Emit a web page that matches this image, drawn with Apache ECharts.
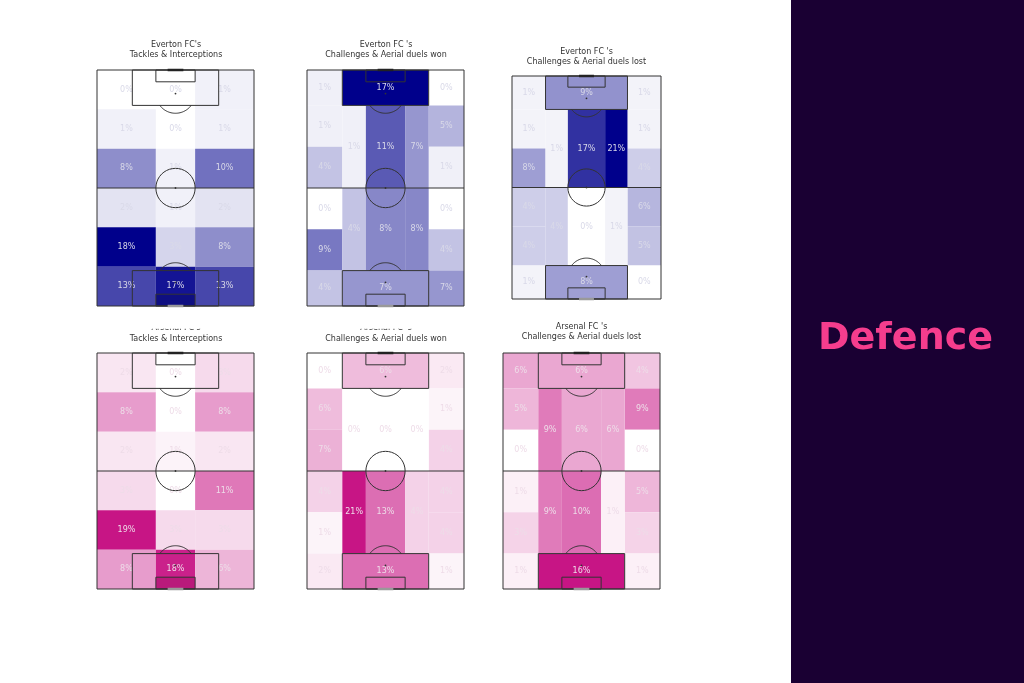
<!DOCTYPE html>
<html><head><meta charset="utf-8">
<script src="https://cdn.jsdelivr.net/npm/echarts@6/dist/echarts.min.js"></script>
<style>html,body{margin:0;padding:0;background:#fff}#c{width:1024px;height:683px}</style>
</head><body><div id="c"></div>
<script>
// ---- bin edges on an 80 x 120 pitch (y measured from the top goal line) ----
const gridColEdges = [0, 30, 50, 80];
const gridRowEdges = [0, 20, 40, 60, 80, 100, 120];
const posColEdges = [0, 18, 30, 50, 62, 80];
const wingRowEdges = [0, 18, 39, 60, 81, 102, 120];
const midRowEdges = [18, 60, 102];

// ---- titles ----
const panelTitles = [
  ["Everton FC's", "Tackles & Interceptions"],
  ["Everton FC 's", "Challenges & Aerial duels won"],
  ["Everton FC 's", "Challenges & Aerial duels lost"],
  ["Arsenal FC's", "Tackles & Interceptions"],
  ["Arsenal FC 's", "Challenges & Aerial duels won"],
  ["Arsenal FC 's", "Challenges & Aerial duels lost"]
];
const sideLabel = "Defence";

// ---- Tackles & Interceptions (% ; rows top->bottom, columns left, centre, right) ----
const evertonTackles = [[0,0,1],[1,0,1],[8,1,10],[2,1,2],[18,3,8],[13,16.6,13]];
const arsenalTackles = [[2,0,3],[8,0,8],[2,1,2],[3,0,11],[19,3,3],[8,18,6]];

// ---- Challenges & aerial duels (% per positional zone) ----
// boxes: [top box, bottom box]; wings: 6 rows top->bottom; half-spaces/centre: [upper, lower]
const evWonBoxes = [17, 7];
const evWonLeftWing = [1, 1, 4, 0, 9, 4];
const evWonRightWing = [0, 5, 1, 0, 4, 7];
const evWonLeftHalf = [1, 4];
const evWonCentre = [11, 8];
const evWonRightHalf = [7, 8];

const evLostBoxes = [9, 8];
const evLostLeftWing = [1, 1, 8, 4, 4, 1];
const evLostRightWing = [1, 1, 4, 6, 5, 0];
const evLostLeftHalf = [1, 4];
const evLostCentre = [17, 0];
const evLostRightHalf = [21, 1];

const arWonBoxes = [6, 13];
const arWonLeftWing = [0, 6, 7, 4, 1, 2];
const arWonRightWing = [2, 1, 4, 4, 4, 1];
const arWonLeftHalf = [0, 21];
const arWonCentre = [0, 13];
const arWonRightHalf = [0, 4];

const arLostBoxes = [6, 16];
const arLostLeftWing = [6, 5, 0, 1, 3, 1];
const arLostRightWing = [4, 9, 0, 5, 3, 1];
const arLostLeftHalf = [9, 9];
const arLostCentre = [6, 10];
const arLostRightHalf = [6, 1];

// ---- build cell tables ----
function gridCells(vals) {
  const out = [];
  for (let r = 0; r < vals.length; r++)
    for (let c = 0; c < vals[r].length; c++)
      out.push([gridColEdges[c], gridColEdges[c+1], gridRowEdges[r], gridRowEdges[r+1], vals[r][c]]);
  return out;
}
function posCells(boxes, lw, rw, lh, ce, rh) {
  const out = [];
  out.push([posColEdges[1], posColEdges[4], 0, wingRowEdges[1], boxes[0]]);
  out.push([posColEdges[1], posColEdges[4], wingRowEdges[5], 120, boxes[1]]);
  for (let i = 0; i < 6; i++) {
    out.push([posColEdges[0], posColEdges[1], wingRowEdges[i], wingRowEdges[i+1], lw[i]]);
    out.push([posColEdges[4], posColEdges[5], wingRowEdges[i], wingRowEdges[i+1], rw[i]]);
  }
  for (let i = 0; i < 2; i++) {
    out.push([posColEdges[1], posColEdges[2], midRowEdges[i], midRowEdges[i+1], lh[i]]);
    out.push([posColEdges[2], posColEdges[3], midRowEdges[i], midRowEdges[i+1], ce[i]]);
    out.push([posColEdges[3], posColEdges[4], midRowEdges[i], midRowEdges[i+1], rh[i]]);
  }
  return out;
}

const panels = [
  {cells: gridCells(evertonTackles), base: [0,0,139], txt: '#d9d9e8', box: {left: 97, top: 70, width: 157, height: 236}, t: [176, 44.5, 54.5], shade: 'rgba(0,0,70,0.25)'},
  {cells: posCells(evWonBoxes, evWonLeftWing, evWonRightWing, evWonLeftHalf, evWonCentre, evWonRightHalf), base: [0,0,139], txt: '#d9d9e8', box: {left: 307, top: 70, width: 157, height: 236}, t: [386, 44.5, 54.5]},
  {cells: posCells(evLostBoxes, evLostLeftWing, evLostRightWing, evLostLeftHalf, evLostCentre, evLostRightHalf), base: [0,0,139], txt: '#d9d9e8', box: {left: 512, top: 76, width: 149, height: 223}, t: [586.5, 52, 62]},
  {cells: gridCells(arsenalTackles), base: [199,21,133], txt: '#eedce8', box: {left: 97, top: 353, width: 157, height: 236}, t: [176, 327.5, 338.5], clip: true, shade: 'rgba(120,0,60,0.2)'},
  {cells: posCells(arWonBoxes, arWonLeftWing, arWonRightWing, arWonLeftHalf, arWonCentre, arWonRightHalf), base: [199,21,133], txt: '#eedce8', box: {left: 307, top: 353, width: 157, height: 236}, t: [386, 327.5, 338.5], clip: true},
  {cells: posCells(arLostBoxes, arLostLeftWing, arLostRightWing, arLostLeftHalf, arLostCentre, arLostRightHalf), base: [199,21,133], txt: '#eedce8', box: {left: 503, top: 353, width: 157, height: 236}, t: [581.5, 326.5, 337]}
];

function cmap(base, t) {
  t = Math.max(0, Math.min(1, t));
  const c = base.map(b => Math.round(255 + (b - 255) * t));
  return 'rgb(' + c.join(',') + ')';
}

const LINE = '#333';
const grids = [], xAxes = [], yAxes = [], series = [], graphics = [];

panels.forEach((p, i) => {
  grids.push(Object.assign({}, p.box));
  xAxes.push({gridIndex: i, type: 'value', min: 0, max: 80, show: false});
  yAxes.push({gridIndex: i, type: 'value', min: 0, max: 120, inverse: true, show: false});
  const vmax = Math.max(...p.cells.map(c => c[4]));
  series.push({
    type: 'custom', xAxisIndex: i, yAxisIndex: i, silent: true, animation: false,
    data: p.cells,
    renderItem: function (params, api) {
      const a = api.coord([api.value(0), api.value(2)]);
      const b = api.coord([api.value(1), api.value(3)]);
      const v = api.value(4);
      return {type: 'group', children: [
        {type: 'rect', shape: {x: a[0], y: a[1], width: b[0] - a[0], height: b[1] - a[1]},
         style: {fill: cmap(p.base, v / vmax), stroke: null}},
        {type: 'text', x: (a[0] + b[0]) / 2, y: (a[1] + b[1]) / 2,
         style: {text: Math.round(v) + '%', fill: p.txt, font: '8px "DejaVu Sans"', textAlign: 'center', textVerticalAlign: 'middle'}}
      ]};
    }
  });
  // pitch markings
  series.push({
    type: 'custom', xAxisIndex: i, yAxisIndex: i, silent: true, animation: false, z: 5,
    data: [[40, 60]],
    renderItem: function (params, api) {
      const C = (x, y) => api.coord([x, y]);
      const st = {stroke: LINE, lineWidth: 1, fill: null};
      const rect = (x0, y0, x1, y1, extra) => {
        const a = C(x0, y0), b = C(x1, y1);
        return {type: 'rect', shape: {x: a[0], y: a[1], width: b[0] - a[0], height: b[1] - a[1]}, style: Object.assign({}, st, extra || {})};
      };
      const line = (x0, y0, x1, y1, w, col) => {
        const a = C(x0, y0), b = C(x1, y1);
        return {type: 'line', shape: {x1: a[0], y1: a[1], x2: b[0], y2: b[1]}, style: {stroke: col || LINE, lineWidth: w || 1}};
      };
      const dot = (x, y) => { const a = C(x, y); return {type: 'circle', shape: {cx: a[0], cy: a[1], r: 0.9}, style: {fill: LINE}}; };
      const arcPts = (cx, cy, a0, a1) => {
        const pts = [];
        for (let k = 0; k <= 40; k++) {
          const a = a0 + (a1 - a0) * k / 40;
          pts.push(C(cx + 10 * Math.cos(a), cy + 10 * Math.sin(a)));
        }
        return {type: 'polyline', shape: {points: pts}, style: {stroke: LINE, lineWidth: 1, fill: null}};
      };
      const ch = [];
      if (p.shade) ch.push(rect(30, 114, 50, 120, {fill: p.shade, stroke: null}));
      ch.push(rect(0, 0, 80, 120));
      ch.push(line(0, 60, 80, 60));
      ch.push(arcPts(40, 60, 0, 2 * Math.PI));
      ch.push(dot(40, 60));
      ch.push(rect(18, 0, 62, 18));
      ch.push(rect(30, 0, 50, 6));
      ch.push(rect(18, 102, 62, 120));
      ch.push(rect(30, 114, 50, 120));
      ch.push(dot(40, 12));
      ch.push(dot(40, 108));
      const ang = Math.acos(0.6);
      ch.push(arcPts(40, 12, Math.PI / 2 - ang, Math.PI / 2 + ang));
      ch.push(arcPts(40, 108, 3 * Math.PI / 2 - ang, 3 * Math.PI / 2 + ang));
      ch.push(line(36, 0, 44, 0, 2.5, '#222'));
      ch.push(line(36, 120, 44, 120, 2.5, '#999'));
      return {type: 'group', children: ch};
    }
  });
  // titles
  graphics.push({type: 'text', x: p.t[0], y: p.t[1], z: 10,
    style: {text: panelTitles[i][0], font: '8px "DejaVu Sans"', fill: '#333', textAlign: 'center', textVerticalAlign: 'middle'}});
  graphics.push({type: 'text', x: p.t[0], y: p.t[2], z: 10,
    style: {text: panelTitles[i][1], font: '8px "DejaVu Sans"', fill: '#333', textAlign: 'center', textVerticalAlign: 'middle'}});
  if (p.clip) {
    graphics.push({type: 'rect', z: 11, shape: {x: p.t[0] - 45, y: 312, width: 90, height: p.t[1] + 1.2 - 312}, style: {fill: '#fff'}});
  }
});

graphics.push({type: 'rect', z: 1, shape: {x: 791, y: 0, width: 233, height: 683}, style: {fill: '#1a0033'}});
graphics.push({type: 'text', z: 2, x: 905.5, y: 339,
  style: {text: sideLabel, font: 'bold 38px "DejaVu Sans"', fill: '#f53d8d', textAlign: 'center', textVerticalAlign: 'middle'}});

const chart = echarts.init(document.getElementById('c'), null, {renderer: 'canvas'});
chart.setOption({
  backgroundColor: '#fff',
  animation: false,
  grid: grids, xAxis: xAxes, yAxis: yAxes,
  series: series,
  graphic: graphics
});
</script></body></html>
